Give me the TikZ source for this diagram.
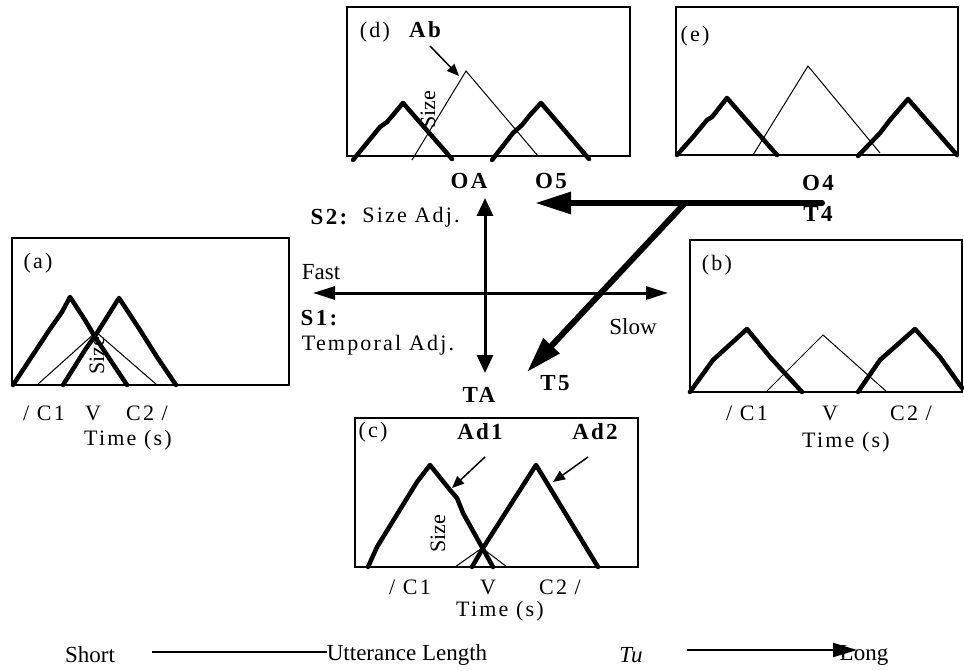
\documentclass[tikz,border=0pt]{standalone}
\usepackage{fontspec}
\setmainfont{Liberation Serif}
\newfontfamily\spc[LetterSpace=10]{Liberation Serif}
\usetikzlibrary{arrows.meta}
\tikzset{
  panel/.style={draw, line width=1.5pt},
  thickc/.style={line width=4.5pt, line join=round, line cap=round},
  thinc/.style={line width=1pt},
  lab/.style={font=\spc\fontsize{22}{25}\selectfont, inner sep=0pt},
  bl/.style={font=\spc\bfseries\fontsize{23}{27}\selectfont, inner sep=0pt},
  pl/.style={font=\fontsize{23}{27}\selectfont, inner sep=0pt},
  sz/.style={font=\fontsize{22}{25}\selectfont, inner sep=0pt, rotate=90},
  bigarrow/.style={line width=6pt, -{Triangle[length=36pt,width=21pt]}},
  medarrow/.style={line width=3pt, {Triangle[length=18pt,width=16pt]}-{Triangle[length=18pt,width=16pt]}},
  harrow/.style={line width=3pt, {Triangle[length=22pt,width=13pt]}-{Triangle[length=22pt,width=13pt]}},
  smallarrow/.style={line width=1.5pt, -{Triangle[length=12pt,width=10pt]}},
}
\begin{document}
\begin{tikzpicture}[x=1pt,y=-1pt]
\path[use as bounding box] (0,0) rectangle (964,671);

% ---------- panel (a)
\draw[panel] (12,238) rectangle (289,385);
\draw[thinc] (37,385) -- (96,332) -- (157,385);
\draw[thickc] (13,385) -- (50,329) -- (62,312) -- (70,297) -- (85,320) -- (95,337) -- (127,385);
\draw[thickc] (63,385) -- (85,350) -- (97,333) -- (119,298) -- (140,330) -- (157,357) -- (176,385);
\node[sz] (sa) at (97,356) {Size};
\node[lab] (la) at (38,263) {(a)};
\node[lab] (a1) at (44,413) {/ C1};
\node[lab] (a2) at (93,413) {V};
\node[lab] (a3) at (147,413) {C2 /};
\node[lab] (at) at (128,440) {Time (s)};

% ---------- panel (b)
\draw[panel] (690,240) -- (962,240) -- (962,392) -- (690,392) -- cycle;
\draw[thinc] (766,392) -- (823,335) -- (887,392);
\draw[thickc] (690,392) -- (713,360) -- (747,329) -- (770,357) -- (802,392);
\draw[thickc] (858,392) -- (880,360) -- (915,329) -- (940,357) -- (962,388);
\node[lab] (lb) at (717,265) {(b)};
\node[lab] (b1) at (747,413) {/ C1};
\node[lab] (b2) at (830,413) {V};
\node[lab] (b3) at (911,413) {C2 /};
\node[lab] (bt) at (846,442) {Time (s)};

% ---------- panel (c)
\draw[panel] (355,418) rectangle (638,567);
\draw[thinc] (455,567) -- (482,548) -- (507,567);
\draw[thickc] (368,567) -- (377,547) -- (417,482) -- (430,465) -- (450,490) -- (457,498) -- (463,513) -- (493,567);
\draw[thickc] (472,567) -- (483,548) -- (536,465) -- (598,567);
\node[sz] (sc) at (438,534) {Size};
\node[lab] (lc) at (373,432) {(c)};
\node[bl] (ad1) at (480,432) {Ad1};
\node[bl] (ad2) at (595,432) {Ad2};
\coordinate (ad1s) at (485,457);
\coordinate (ad1e) at (452,488);
\coordinate (ad2s) at (588,457);
\coordinate (ad2e) at (553,482);
\draw[smallarrow] (ad1s) -- (ad1e);
\draw[smallarrow] (ad2s) -- (ad2e);
\node[lab] (c1) at (410,587) {/ C1};
\node[lab] (c2) at (488,587) {V};
\node[lab] (c3) at (560,587) {C2 /};
\node[lab] (ct) at (500,611) {Time (s)};

% ---------- panel (d)
\draw[panel] (347,7) rectangle (630,156);
\draw[thinc] (412,160) -- (466,71) -- (538,156);
\draw[thickc] (353,160) -- (380,127) -- (387,122) -- (393,115) -- (403,103) -- (452,159);
\draw[thickc] (492,160) -- (513,133) -- (522,125) -- (530,115) -- (541,103) -- (589,159);
\node[sz] (sd) at (428,110) {Size};
\node[lab] (ld) at (375,32) {(d)};
\node[bl] (ab) at (425,30) {Ab};
\coordinate (abs) at (430,46);
\coordinate (abe) at (459,76);
\draw[smallarrow] (abs) -- (abe);

% ---------- panel (e)
\draw[panel] (676,7) rectangle (958,155);
\draw[thinc] (753,155) -- (808,66) -- (880,153);
\draw[thickc] (677,155) -- (693,137) -- (707,120) -- (712,117) -- (727,98) -- (777,155);
\draw[thickc] (858,156) -- (880,133) -- (890,120) -- (908,99) -- (957,155);
\node[lab] (le) at (695,36) {(e)};

% ---------- centre
\node[bl] (oa) at (469,181) {OA};
\node[bl] (o5) at (551,181) {O5};
\node[bl] (o4) at (818,183) {O4};
\node[bl] (t4) at (818,214) {T4};
\node[bl] (ta) at (479,395) {TA};
\node[bl] (t5) at (555,383) {T5};
\node[bl] (s2) at (329,217) {S2:};
\node[lab] (s2t) at (411,217) {Size Adj.};
\node[pl] (fast) at (321,272) {Fast};
\node[bl] (s1) at (319,318) {S1:};
\node[lab] (s1t) at (378,345) {Temporal Adj.};
\node[pl] (slow) at (633,327) {Slow};

\coordinate (vt) at (485,198);
\coordinate (vb) at (485,373);
\coordinate (hl) at (313,293);
\coordinate (hr) at (668,293);
\draw[medarrow] (vb) -- (vt);
\draw[harrow] (hl) -- (hr);

\coordinate (hs) at (822,203);
\coordinate (he) at (535,203);
\coordinate (ds) at (685,203);
\coordinate (de) at (527,372);
\draw[bigarrow, line cap=round] (hs) -- (he);
\draw[bigarrow] (ds) -- (de);

% ---------- bottom
\node[pl] (short) at (90,655) {Short};
\node[pl] (ul) at (407,655) {Utterance Length};
\node[pl, font=\itshape\fontsize{23}{27}\selectfont] (tu) at (631,655) {Tu};
\node[pl] (long) at (864,655) {Long};
\coordinate (l1s) at (152,652);
\coordinate (l1e) at (327,652);
\coordinate (l2s) at (687,650);
\coordinate (l2e) at (857,650);
\draw[line width=2pt] (l1s) -- (l1e);
\draw[line width=2pt, -{Triangle[length=24pt,width=14pt]}] (l2s) -- (l2e);
\end{tikzpicture}
\end{document}
